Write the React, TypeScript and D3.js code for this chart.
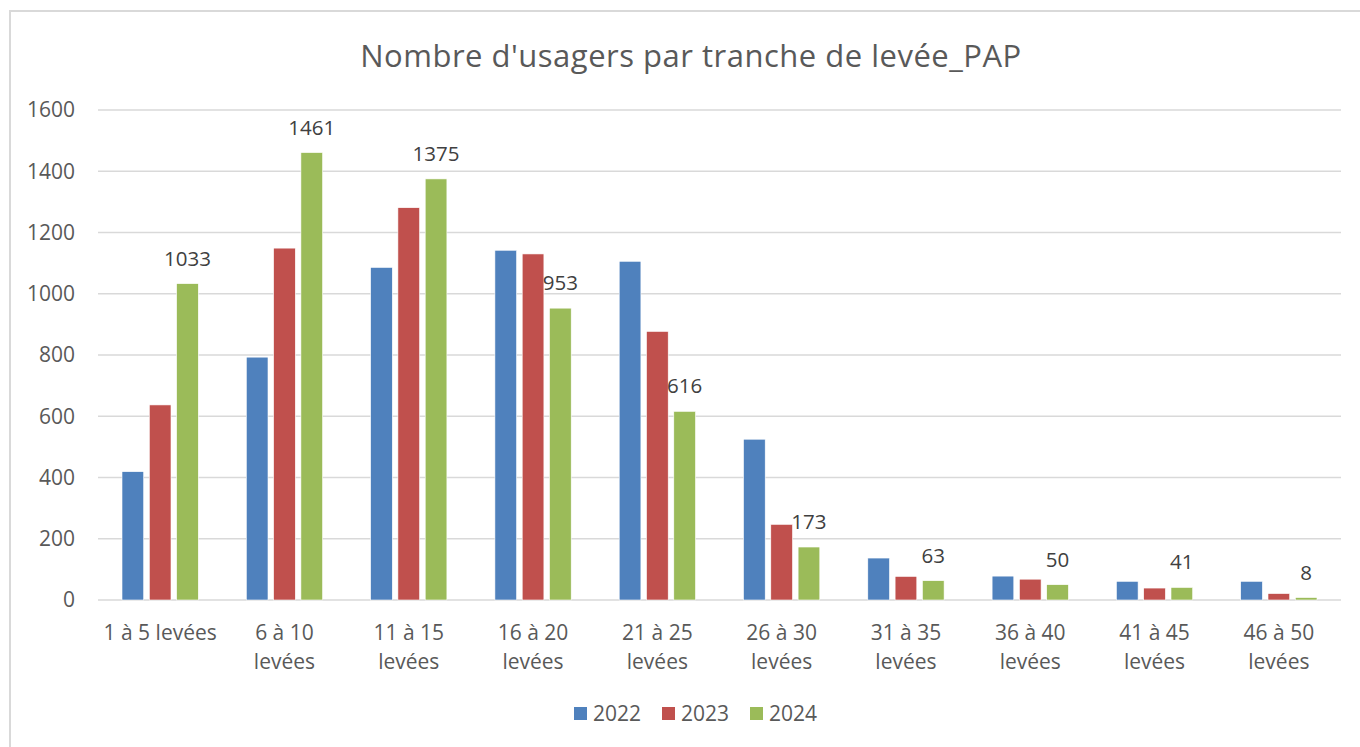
import { useEffect, useRef } from "react";
import * as d3 from "d3";

const categories = [
  ["1 à 5 levées"],
  ["6 à 10", "levées"],
  ["11 à 15", "levées"],
  ["16 à 20", "levées"],
  ["21 à 25", "levées"],
  ["26 à 30", "levées"],
  ["31 à 35", "levées"],
  ["36 à 40", "levées"],
  ["41 à 45", "levées"],
  ["46 à 50", "levées"],
];
const years = ["2022", "2023", "2024"];
const values2022 = [419, 793, 1086, 1142, 1106, 525, 137, 78, 61, 61];
const values2023 = [637, 1149, 1281, 1130, 877, 247, 77, 68, 39, 21];
const values2024 = [1033, 1461, 1375, 953, 616, 173, 63, 50, 41, 8];
const yTicks = [0, 200, 400, 600, 800, 1000, 1200, 1400, 1600];

const COLORS = ["#4f81bd", "#c0504d", "#9bbb59"];
const TEXT = "#595959";
const GRID = "#d9d9d9";
const FONT = "'Open Sans', sans-serif";

export default function App() {
  const ref = useRef<SVGSVGElement>(null);

  useEffect(() => {
    document.body.style.margin = "0";
    const svg = d3.select(ref.current);
    svg.selectAll("*").remove();

    const W = 1360;
    const H = 747;
    const left = 98;
    const right = 1341;
    const top = 110;
    const bottom = 600;

    // chart border (only left and top visible in the crop)
    svg
      .append("rect")
      .attr("x", 10)
      .attr("y", 11)
      .attr("width", W + 10)
      .attr("height", H + 10)
      .attr("fill", "#fff")
      .attr("stroke", GRID)
      .attr("stroke-width", 2);

    const x = d3
      .scaleBand<number>()
      .domain(d3.range(categories.length))
      .range([left, right]);
    const y = d3.scaleLinear().domain([0, 1600]).range([bottom, top]);

    svg
      .append("text")
      .attr("x", 691)
      .attr("y", 67)
      .attr("text-anchor", "middle")
      .attr("fill", TEXT)
      .attr("font-family", FONT)
      .attr("font-size", 31)
      .attr("letter-spacing", 0.5)
      .text("Nombre d'usagers par tranche de levée_PAP");

    // grid
    svg
      .append("g")
      .selectAll("line")
      .data(yTicks)
      .join("line")
      .attr("x1", left)
      .attr("x2", right)
      .attr("y1", (d) => y(d))
      .attr("y2", (d) => y(d))
      .attr("stroke", GRID)
      .attr("stroke-width", 1.5);

    svg
      .append("g")
      .selectAll("text")
      .data(yTicks)
      .join("text")
      .attr("x", 75)
      .attr("y", (d) => y(d))
      .attr("dy", "0.35em")
      .attr("text-anchor", "end")
      .attr("fill", TEXT)
      .attr("font-family", FONT)
      .attr("font-size", 21)
      .text((d) => d);

    const series = [values2022, values2023, values2024];
    const barW = 21.7;
    const step = 27.3;
    const groupW = step * 2 + barW;

    series.forEach((vals, si) => {
      svg
        .append("g")
        .selectAll("rect")
        .data(vals)
        .join("rect")
        .attr("x", (_, i) => x(i)! + (x.bandwidth() - groupW) / 2 + si * step)
        .attr("y", (d) => y(d))
        .attr("width", barW)
        .attr("height", (d) => bottom - y(d))
        .attr("fill", COLORS[si])
        .attr("stroke", "#fff")
        .attr("stroke-width", 0.6);
    });

    // data labels on 2024
    svg
      .append("g")
      .selectAll("text")
      .data(values2024)
      .join("text")
      .attr(
        "x",
        (_, i) => x(i)! + (x.bandwidth() - groupW) / 2 + 2 * step + barW / 2
      )
      .attr("y", (d) => y(d) - 18)
      .attr("text-anchor", "middle")
      .attr("fill", "#404040")
      .attr("font-family", FONT)
      .attr("font-size", 20.5)
      .text((d) => d);

    // x labels
    const xl = svg
      .append("g")
      .selectAll("text")
      .data(categories)
      .join("text")
      .attr("x", (_, i) => x(i)! + x.bandwidth() / 2)
      .attr("y", 640)
      .attr("text-anchor", "middle")
      .attr("fill", TEXT)
      .attr("font-family", FONT)
      .attr("font-size", 21);
    xl.selectAll("tspan")
      .data((d) => d)
      .join("tspan")
      .attr("x", function () {
        return (this.parentNode as SVGTextElement).getAttribute("x");
      })
      .attr("dy", (_, i) => (i === 0 ? 0 : 29))
      .text((d) => d);

    // legend
    const legendX = [574, 662, 750];
    const lg = svg
      .append("g")
      .selectAll("g")
      .data(years)
      .join("g")
      .attr("transform", (_, i) => `translate(${legendX[i]},714)`);
    lg.append("rect")
      .attr("x", 0)
      .attr("y", -7)
      .attr("width", 13)
      .attr("height", 13)
      .attr("fill", (_, i) => COLORS[i]);
    lg.append("text")
      .attr("x", 19)
      .attr("y", 0)
      .attr("dy", "0.35em")
      .attr("fill", TEXT)
      .attr("font-family", FONT)
      .attr("font-size", 21)
      .text((d) => d);
  }, []);

  return <svg ref={ref} width={1360} height={747} style={{ display: "block" }} />;
}
